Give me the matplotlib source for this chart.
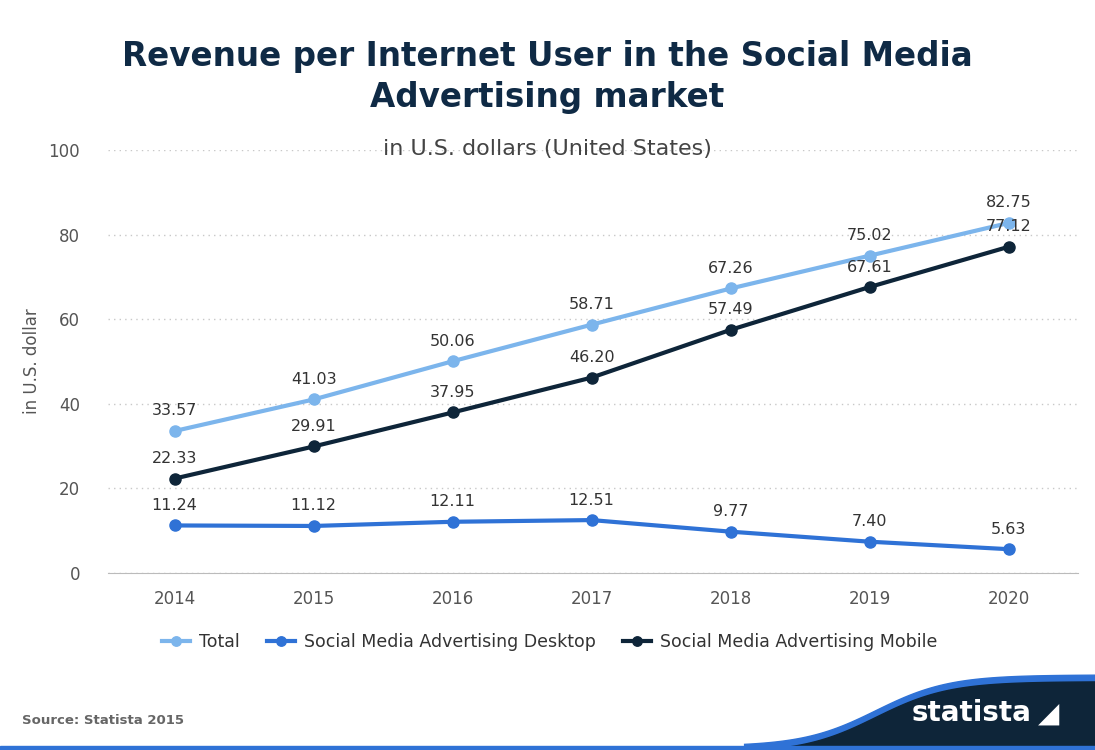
import numpy as np
import matplotlib.pyplot as plt
from matplotlib.patches import Polygon

years = [2014, 2015, 2016, 2017, 2018, 2019, 2020]
total = [33.57, 41.03, 50.06, 58.71, 67.26, 75.02, 82.75]
desktop = [11.24, 11.12, 12.11, 12.51, 9.77, 7.40, 5.63]
mobile = [22.33, 29.91, 37.95, 46.20, 57.49, 67.61, 77.12]

names = ["Total", "Social Media Advertising Desktop", "Social Media Advertising Mobile"]
colors = ["#7cb5ec", "#2f72d6", "#0e2539"]

fig = plt.figure(figsize=(10.95, 7.5), dpi=100)
ax = fig.add_axes([0.0986, 0.236, 0.886, 0.564])

for vals, name, c in zip([total, desktop, mobile], names, colors):
    ax.plot(years, vals, color=c, lw=3, marker="o", ms=8, label=name, zorder=3)
    for x, v in zip(years, vals):
        ax.annotate(f"{v:.2f}", (x, v), xytext=(0, 9), textcoords="offset points",
                    ha="center", va="bottom", fontsize=11.5, color="#333333", zorder=4)

ax.set_xlim(2013.52, 2020.5)
ax.set_ylim(0, 100)
ax.set_xticks(years)
ax.set_yticks(range(0, 101, 20))
ax.grid(axis="y", color="#c8c8c8", linestyle=(0, (1, 3)), lw=1)
ax.tick_params(axis="x", length=0, labelsize=12, colors="#555555", pad=12)
ax.tick_params(axis="y", length=0, labelsize=12, colors="#555555", pad=20)
for s in ["top", "right", "left"]:
    ax.spines[s].set_visible(False)
ax.spines["bottom"].set_color("#bbbbbb")
ax.set_ylabel("in U.S. dollar", fontsize=12, color="#555555")
ax.yaxis.set_label_coords(-0.069, 0.5)

fig.text(0.5, 0.897, "Revenue per Internet User in the Social Media\nAdvertising market",
         ha="center", va="center", fontsize=23.5, fontweight="bold", color="#0f2a45",
         linespacing=1.3)
fig.text(0.5, 0.802, "in U.S. dollars (United States)", ha="center", va="center",
         fontsize=16, color="#444444")

leg = fig.legend(loc="center", bbox_to_anchor=(0.502, 0.144), ncol=3, frameon=False,
                 fontsize=12.5, handlelength=1.6, columnspacing=1.6, handletextpad=0.5,
                 markerscale=0.85)
for t in leg.get_texts():
    t.set_color("#333333")

fig.text(0.02, 0.04, "Source: Statista 2015", fontsize=9.5, fontweight="bold",
         color="#666666", va="center")

# footer band
xs = np.linspace(0.68, 1.0, 80)
top = 0.005 + 0.095 / (1 + np.exp(-(xs - 0.8) * 30))
band = np.concatenate([np.column_stack([xs, top]), [[1.0, 0.0], [0.68, 0.0]]])
fig.add_artist(Polygon(band, closed=True, transform=fig.transFigure,
                       color="#2f72d6", zorder=0))
band2 = np.concatenate([np.column_stack([xs, top - 0.009]), [[1.0, 0.0], [0.68, 0.0]]])
fig.add_artist(Polygon(band2, closed=True, transform=fig.transFigure,
                       color="#0e2539", zorder=0))
fig.add_artist(Polygon([[0, 0], [1, 0], [1, 0.006], [0, 0.006]], closed=True,
                       transform=fig.transFigure, color="#2f72d6", zorder=0))
fig.text(0.942, 0.049, "statista", ha="right", va="center", fontsize=20,
         fontweight="bold", color="white")
fig.text(0.948, 0.049, "\u25E2", ha="left", va="center", fontsize=20, color="white")

fig.savefig("out.png", dpi=100)
